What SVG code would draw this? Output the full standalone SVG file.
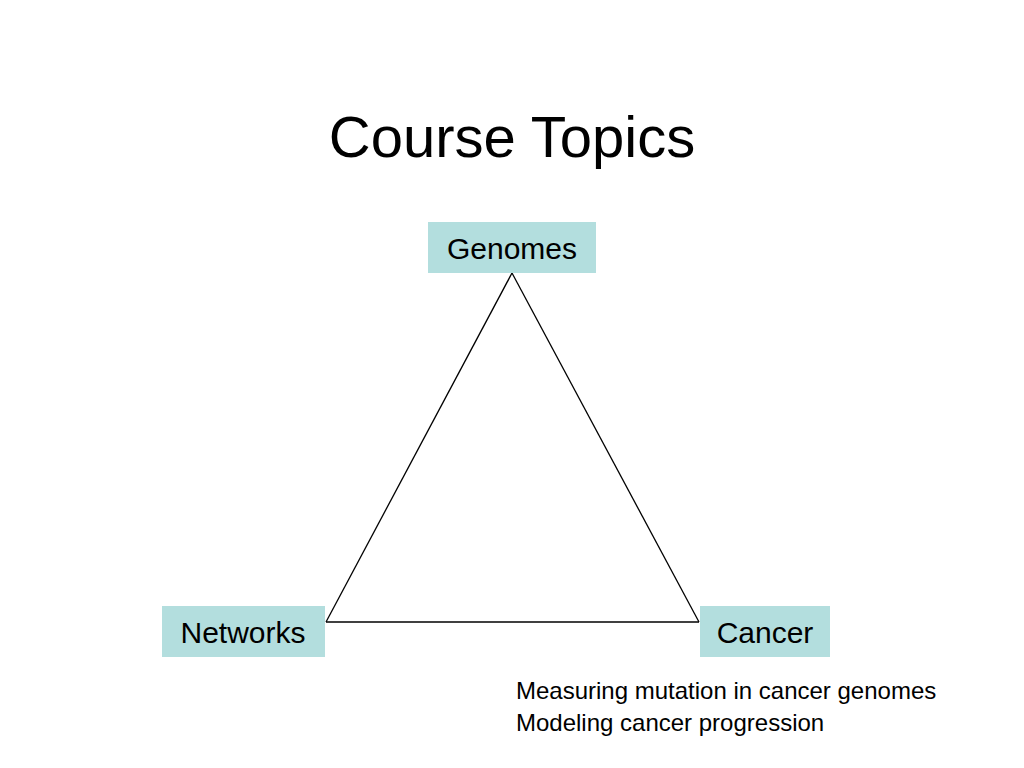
<svg xmlns="http://www.w3.org/2000/svg" width="1024" height="768" viewBox="0 0 1024 768">
<style>
.box{fill:#b3dede}
.lbl{font-family:"Liberation Sans",Arial,sans-serif;font-size:30px;fill:#000;text-anchor:middle}
.note{font-family:"Liberation Sans",Arial,sans-serif;font-size:24px;fill:#000}
.edge{stroke:#000;stroke-width:1.3;fill:none}
</style>
<rect width="1024" height="768" fill="#fff"/>
<text x="512" y="157" font-family="Liberation Sans,Arial,sans-serif" font-size="58" text-anchor="middle">Course Topics</text>
<g id="connectors">
<line class="edge" x1="512" y1="273" x2="326" y2="622"/>
<line class="edge" x1="512" y1="273" x2="699" y2="622"/>
<line class="edge" x1="326" y1="622" x2="699" y2="622"/>
</g>
<g id="genomes"><rect class="box" x="428" y="222" width="168" height="51"/><text class="lbl" x="512" y="259">Genomes</text></g>
<g id="networks"><rect class="box" x="162" y="606" width="163" height="51"/><text class="lbl" x="243" y="643">Networks</text></g>
<g id="cancer"><rect class="box" x="700" y="606" width="130" height="51"/><text class="lbl" x="765" y="643">Cancer</text></g>
<text class="note" x="516" y="699">Measuring mutation in cancer genomes</text>
<text class="note" x="516" y="731">Modeling cancer progression</text>
</svg>
